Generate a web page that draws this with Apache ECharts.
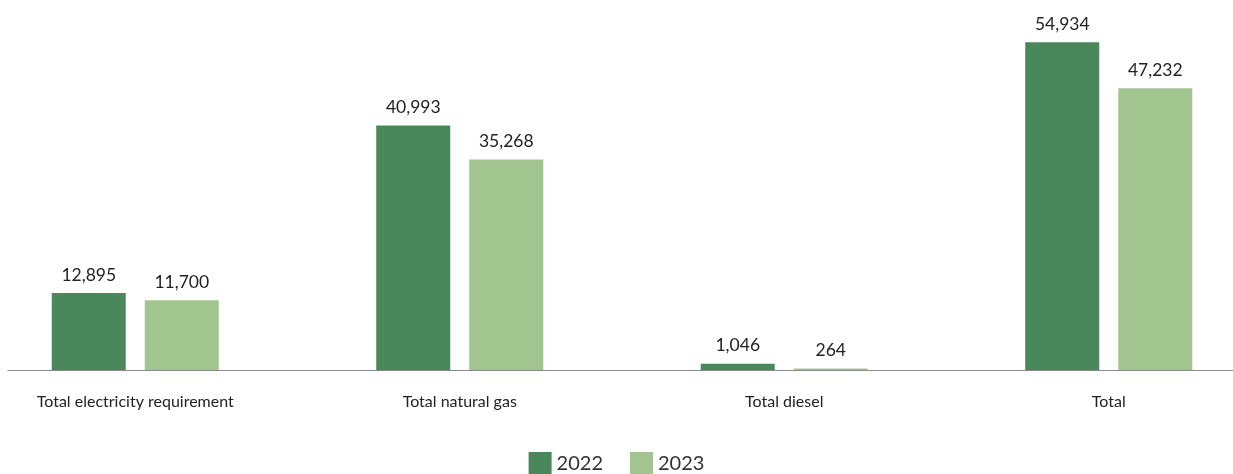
<!DOCTYPE html>
<html>
<head>
<meta charset="utf-8">
<script src="https://cdn.jsdelivr.net/npm/echarts@6/dist/echarts.min.js"></script>
<style>
  html, body { margin: 0; padding: 0; background: #ffffff; }
  #chart { width: 1233px; height: 474px; }
</style>
</head>
<body>
<div id="chart"></div>
<script>
// Energy consumption by source
const categories = ['Total electricity requirement', 'Total natural gas', 'Total diesel', 'Total'];
const values2022 = [12895, 40993, 1046, 54934];
const values2023 = [11700, 35268, 264, 47232];
const seriesNames = ['2022', '2023'];

const FONT = 'Lato, "Open Sans", sans-serif';
const fmt = v => v.toLocaleString('en-US');

const valueLabel = {
  show: true,
  position: 'top',
  distance: 9,
  color: '#222',
  fontSize: 17.5,
  fontFamily: FONT,
  formatter: p => fmt(p.value)
};

const chart = echarts.init(document.getElementById('chart'));
chart.setOption({
  animation: false,
  textStyle: { fontFamily: FONT },
  grid: [
    { left: -27, right: -38, top: 12, height: 358, containLabel: false, outerBoundsMode: 'none' },
    { left: 8, right: 0, top: 12, height: 358, containLabel: false, outerBoundsMode: 'none' }
  ],
  legend: {
    bottom: -6,
    left: 'center',
    icon: 'rect',
    itemWidth: 23,
    itemHeight: 23,
    itemGap: 27,
    textStyle: { fontSize: 20, color: '#333', fontFamily: FONT },
    data: seriesNames
  },
  xAxis: [
    {
      type: 'category',
      gridIndex: 0,
      data: categories,
      axisLine: { show: false },
      axisTick: { show: false },
      axisLabel: { color: '#222', fontSize: 16, margin: 24, fontFamily: FONT }
    },
    {
      type: 'value',
      gridIndex: 1,
      min: 0,
      max: 1,
      axisLine: { show: true, lineStyle: { color: '#8a8a8a', width: 1.2 } },
      axisTick: { show: false },
      axisLabel: { show: false },
      splitLine: { show: false }
    }
  ],
  yAxis: [
    {
      type: 'value',
      gridIndex: 0,
      min: 0,
      max: 60000,
      show: false,
      splitLine: { show: false }
    },
    {
      type: 'value',
      gridIndex: 1,
      min: 0,
      max: 1,
      show: false
    }
  ],
  series: [
    {
      name: seriesNames[0],
      type: 'bar',
      xAxisIndex: 0,
      yAxisIndex: 0,
      data: values2022,
      barWidth: 74,
      barGap: '25.7%',
      itemStyle: { color: '#4a875a' },
      label: valueLabel
    },
    {
      name: seriesNames[1],
      type: 'bar',
      xAxisIndex: 0,
      yAxisIndex: 0,
      data: values2023,
      barWidth: 74,
      itemStyle: { color: '#a2c48f' },
      label: valueLabel
    }
  ]
});
</script>
</body>
</html>
